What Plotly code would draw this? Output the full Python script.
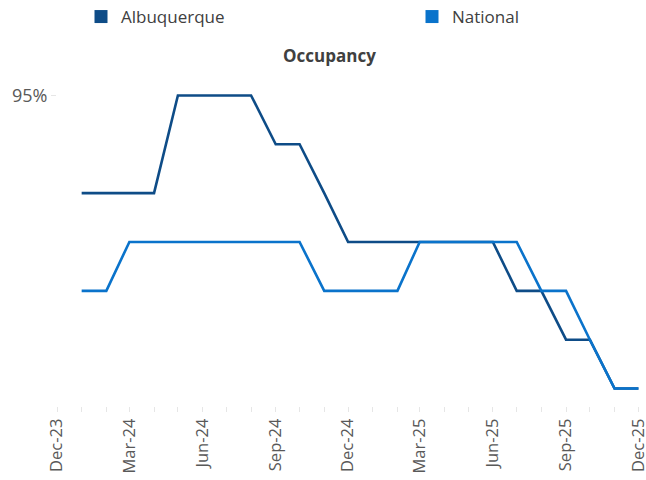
import plotly.graph_objects as go

months = ["2024-01-01","2024-02-01","2024-03-01","2024-04-01","2024-05-01","2024-06-01",
          "2024-07-01","2024-08-01","2024-09-01","2024-10-01","2024-11-01","2024-12-01",
          "2025-01-01","2025-02-01","2025-03-01","2025-04-01","2025-05-01","2025-06-01",
          "2025-07-01","2025-08-01","2025-09-01","2025-10-01","2025-11-01","2025-12-01"]
albuquerque = [93,93,93,93,95,95,95,95,94,94,93,92,92,92,92,92,92,92,91,91,90,90,89,89]
national    = [91,91,92,92,92,92,92,92,92,92,91,91,91,91,92,92,92,92,92,91,91,90,89,89]
series_names = ["Albuquerque", "National"]
colors = ["#0E4C87", "#0A73CB"]
legend_ids = ["legend", "legend2"]

fig = go.Figure()
for name, vals, c, lg in zip(series_names, [albuquerque, national], colors, legend_ids):
    fig.add_trace(go.Scatter(x=months, y=vals, mode="lines", name=name,
                             line=dict(color=c, width=2.6), showlegend=False,
                             cliponaxis=False))
    fig.add_trace(go.Scatter(x=[None], y=[None], mode="markers", name=name,
                             marker=dict(symbol="square", size=13, color=c),
                             showlegend=True, legend=lg))

legend_common = dict(xref="container", yref="container", xanchor="left", yanchor="middle",
                     font=dict(size=17, color="#404040"), itemwidth=30,
                     bgcolor="rgba(0,0,0,0)")

fig.update_layout(
    width=646, height=480,
    margin=dict(l=57, r=6, t=70.5, b=73.5, autoexpand=False),
    paper_bgcolor="white", plot_bgcolor="white",
    font=dict(family="Open Sans", color="#595959"),
    title=dict(text="<b>Occupancy</b>", x=0.51, xref="container", y=1-56/480,
               yref="container", xanchor="center", yanchor="middle",
               font=dict(size=17, color="#404040", family="Open Sans")),
    legend=dict(x=81/646, y=1-17/480, **legend_common),
    legend2=dict(x=412/646, y=1-17/480, **legend_common),
    xaxis=dict(type="date", range=["2023-12-01", "2025-12-03"], automargin=False,
               tick0="2023-12-01", dtick="M3", tickformat="%b-%y",
               tickangle=-90, ticks="outside", ticklen=5, tickcolor="#e6e6e6",
               minor=dict(dtick="M1", ticks="outside", ticklen=5, tickcolor="#e6e6e6"),
               showgrid=False, showline=False, zeroline=False,
               ticklabeloverflow="allow",
               tickfont=dict(size=16.5, color="#595959")),
    yaxis=dict(range=[88.643, 95.5], tickvals=[95], ticktext=["95%"], automargin=False,
               ticks="outside", ticklen=5, tickcolor="#e6e6e6",
               showgrid=False, showline=False, zeroline=False,
               tickfont=dict(size=18, color="#595959")),
)

fig.write_html("out.html", config={"displayModeBar": False},
               post_script="document.body.style.margin='0';")
